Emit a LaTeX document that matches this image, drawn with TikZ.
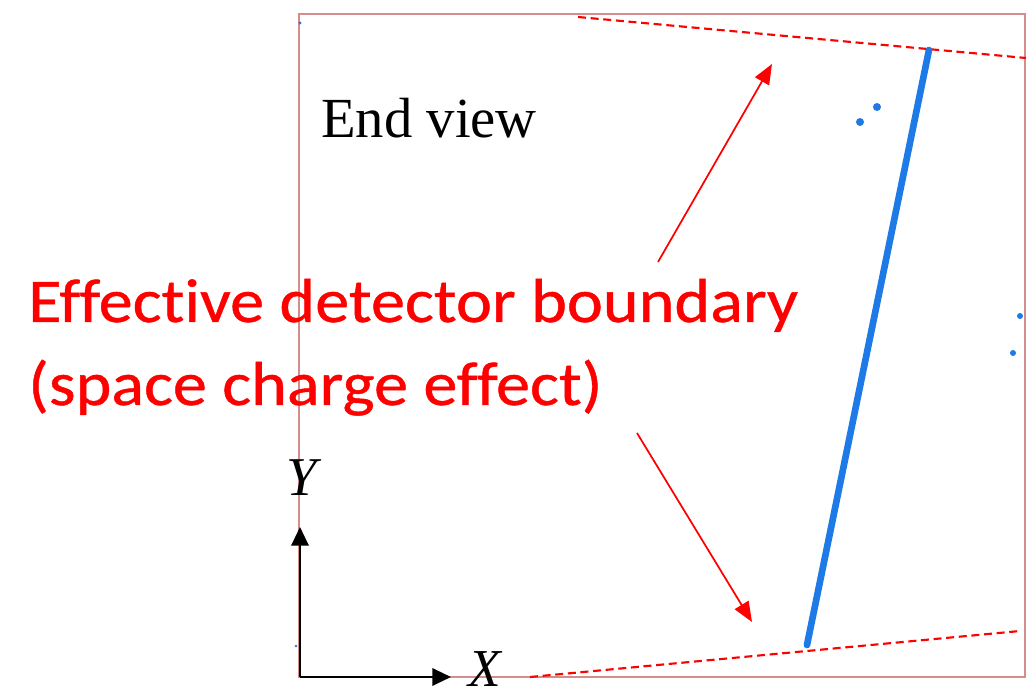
\documentclass[tikz,border=0pt]{standalone}
\usepackage{fontspec}
\setmainfont{Liberation Serif}
\newfontfamily\calib[FakeStretch=1.1, FakeBold=0.7, Ligatures={NoCommon}]{Carlito}
\usetikzlibrary{arrows.meta}
\definecolor{frame}{RGB}{212,140,140}
\definecolor{trk}{RGB}{30,122,230}
\definecolor{lbl}{RGB}{255,0,0}
\tikzset{
  frameline/.style={draw=frame, line width=1.1pt},
  bound/.style={draw=lbl, line width=1.6pt, dash pattern=on 6pt off 3.5pt},
  pointer/.style={draw=lbl, line width=1.3pt, -{Triangle[length=15pt,width=12pt]}},
  axis/.style={draw=black, line width=1.6pt, -{Triangle[length=14pt,width=13pt]}},
  blob/.style={circle, fill=trk, inner sep=0pt, minimum size=6pt},
  serif/.style={font=\fontsize{42.5pt}{42.5pt}\selectfont, inner sep=0pt},
  redtxt/.style={text=lbl, font=\calib\fontsize{46.5pt}{46.5pt}\selectfont, inner sep=0pt, anchor=base west},
}
\begin{document}
\begin{tikzpicture}[x=0.75pt, y=-0.75pt]
\useasboundingbox (0,0) rectangle (1026,698);
\fill[white] (0,0) rectangle (1026,698);
% frame
\draw[frameline] (299,14) rectangle (1025,677);
% boundaries
\coordinate (tb1) at (578,17);
\coordinate (tb2) at (1026,58);
\coordinate (bb1) at (530,677);
\coordinate (bb2) at (1020,631);
\draw[bound] (tb1) -- (tb2);
\draw[bound] (bb1) -- (bb2);
% track
\coordinate (trtop) at (929,50);
\coordinate (trbot) at (807,645);
\draw[trk, line width=5pt, line cap=round] (trtop) -- (trbot);
\node[blob] (d1) at (860,122) {};
\node[blob] (d2) at (877,107) {};
\node[blob, minimum size=4.5pt] (d3) at (1020,316) {};
\node[blob, minimum size=4.5pt] (d4) at (1013,353) {};
\node[blob, minimum size=2.5pt] (d5) at (300,23) {};
\node[blob, minimum size=2pt] (d6) at (296,646) {};
% text
\node[serif, anchor=base west] (ev) at (321,138) {End view};
\node[redtxt] (l1) at (28,322) {Effective detector boundary};
\node[redtxt] (l2) at (28,405) {(space charge effect)};
% red pointers
\coordinate (p1s) at (658,262);
\coordinate (p1e) at (772,64);
\coordinate (p2s) at (637,433);
\coordinate (p2e) at (752,622);
\draw[pointer] (p1s) -- (p1e);
\draw[pointer] (p2s) -- (p2e);
% axes
\coordinate (O) at (300,677);
\coordinate (Ytip) at (300,527);
\coordinate (Xtip) at (451,677);
\draw[axis] (O) -- (Ytip);
\draw[axis] (O) -- (Xtip);
\node[serif, font=\fontsize{41pt}{41pt}\selectfont\itshape] (Y) at (302,478) {Y};
\node[serif, font=\fontsize{40pt}{40pt}\selectfont\itshape] (X) at (485,669) {X};
\end{tikzpicture}
\end{document}
